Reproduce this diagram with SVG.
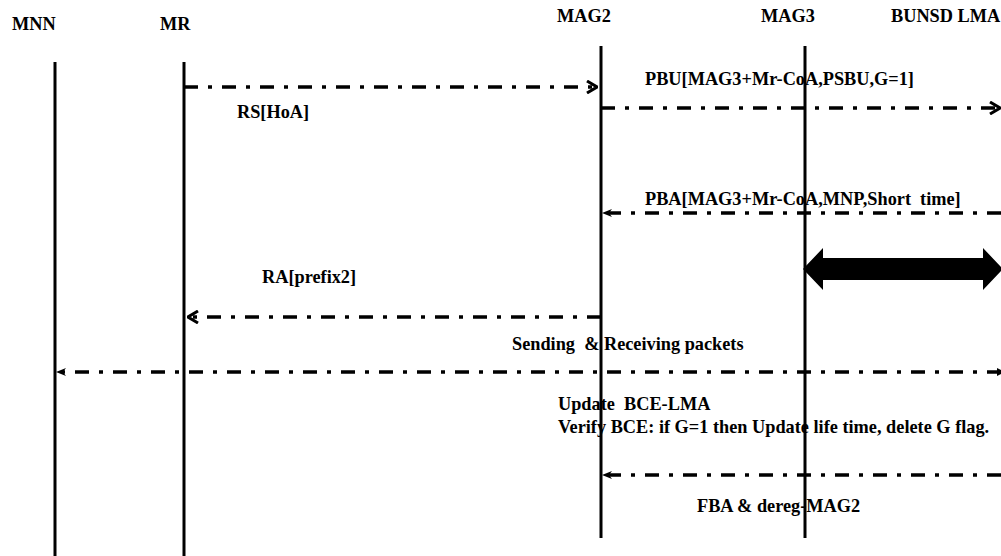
<svg xmlns="http://www.w3.org/2000/svg" width="1001" height="556" viewBox="0 0 1001 556">
<style>
text{font-family:"Liberation Serif","Times New Roman",serif;font-weight:bold;font-size:18.3px;fill:#000;white-space:pre}
.life{stroke:#000;stroke-width:3;fill:none}
.msg{stroke:#000;stroke-width:3.3;fill:none;stroke-dasharray:14 10 4 10}
</style>
<defs>
<marker id="open" viewBox="0 0 12 14" refX="11" refY="7" markerWidth="12" markerHeight="14" markerUnits="userSpaceOnUse" orient="auto">
<path d="M1,1 L11,7 L1,13" fill="none" stroke="#000" stroke-width="3"/>
</marker>
<marker id="fill" viewBox="0 0 10 10" refX="9" refY="5" markerWidth="10" markerHeight="10" markerUnits="userSpaceOnUse" orient="auto">
<path d="M0,1 L10,5 L0,9 L3,5 Z" fill="#000"/>
</marker>
</defs>
<rect width="1001" height="556" fill="#fff"/>
<g id="MNN"><text x="12" y="30">MNN</text><line class="life" x1="55" y1="62" x2="55" y2="556"/></g>
<g id="MR"><text x="160" y="30">MR</text><line class="life" x1="184" y1="62" x2="184" y2="556"/></g>
<g id="MAG2"><text x="557" y="22">MAG2</text><line class="life" x1="601" y1="46" x2="601" y2="538"/></g>
<g id="MAG3"><text x="761" y="22">MAG3</text><line class="life" x1="805" y1="46" x2="805" y2="538"/></g>
<g id="LMA"><text x="891" y="22">BUNSD LMA</text></g>
<g id="connectors">
<line class="msg" x1="184" y1="87" x2="597" y2="87" marker-end="url(#open)"/>
<line class="msg" x1="601" y1="108" x2="1000" y2="108" marker-end="url(#open)"/>
<line class="msg" x1="1001" y1="213" x2="603" y2="213" marker-end="url(#fill)"/>
<line class="msg" x1="601" y1="317" x2="188" y2="317" marker-end="url(#open)"/>
<line class="msg" x1="1001" y1="372" x2="57" y2="372" marker-end="url(#fill)"/>
<path d="M997,368 L1005,372 L997,376 Z" fill="#000"/>
<line class="msg" x1="1001" y1="475" x2="603" y2="475" marker-end="url(#fill)"/>
<path id="tunnel" d="M803,269 L823,248 L823,258 L983,258 L983,248 L1003,269 L983,290 L983,280 L823,280 L823,290 Z" fill="#000"/>
</g>
<g id="labels">
<text x="237" y="118">RS[HoA]</text>
<text x="645" y="85">PBU[MAG3+Mr-CoA,PSBU,G=1]</text>
<text x="645" y="205">PBA[MAG3+Mr-CoA,MNP,Short  time]</text>
<text x="907" y="276" text-anchor="middle">Tunnel setup</text>
<text x="262" y="283">RA[prefix2]</text>
<text x="512" y="350">Sending  &amp; Receiving packets</text>
<text x="558" y="410">Update  BCE-LMA</text>
<text x="558" y="433">Verify BCE: if G=1 then Update life time, delete G flag.</text>
<text x="697" y="512">FBA &amp; dereg-MAG2</text>
</g>
</svg>
